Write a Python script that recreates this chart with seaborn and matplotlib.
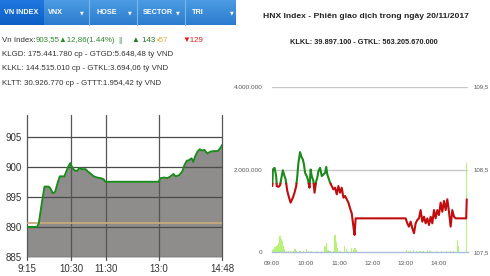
import numpy as np
import matplotlib
matplotlib.use("Agg")
import matplotlib.pyplot as plt
import seaborn as sns

sns.set_theme(style="white")
plt.rcParams['font.family'] = ['Liberation Sans', 'DejaVu Sans']

# ---------------- data ----------------
vn_times = ["9:15", "9:26", "9:32", "9:35", "9:41", "9:45", "9:52", "9:55", "9:59", "10:03",
            "10:07", "10:11", "10:15", "10:19", "10:22", "10:26", "10:29", "10:32", "10:36", "10:41",
            "10:44", "10:49", "10:55", "10:59", "11:03", "11:09", "11:15", "11:21", "11:26", "11:29",
            "13:00", "13:03", "13:09", "13:15", "13:20", "13:25", "13:29", "13:35", "13:40", "13:44",
            "13:48", "13:52", "13:56", "13:59", "14:02", "14:06", "14:10", "14:14", "14:18", "14:23",
            "14:28", "14:34", "14:41", "14:46", "14:48"]
vn_values = [890.0, 890.0, 890.0, 890.5, 894.4, 896.7, 896.7, 896.4, 895.6, 895.8,
             897.2, 898.4, 898.4, 898.4, 899.2, 900.1, 900.6, 899.9, 899.4, 899.3,
             899.8, 899.6, 899.6, 899.2, 898.9, 898.4, 898.2, 898.1, 897.9, 897.5,
             897.5, 898.1, 898.2, 898.1, 898.4, 898.8, 898.4, 898.6, 899.2, 900.3,
             901.0, 901.1, 901.4, 900.8, 901.7, 902.5, 902.9, 902.7, 902.8, 902.2,
             902.5, 902.6, 902.6, 903.2, 903.6]
vn_ref = 890.69
vn_yticks = [885, 890, 895, 900, 905]
vn_xtick_labels = ["9:15", "10:30", "11:30", "13:0", "14:48"]

hnx_times = ["9:00", "9:01", "9:04", "9:07", "9:08", "9:11", "9:14", "9:17", "9:19", "9:22",
             "9:24", "9:27", "9:31", "9:33", "9:37", "9:40", "9:43", "9:45", "9:47", "9:50",
             "9:52", "9:55", "9:57", "9:59", "10:02", "10:04", "10:07", "10:09", "10:11", "10:14",
             "10:16", "10:19", "10:21", "10:23", "10:26", "10:29", "10:32", "10:35", "10:37", "10:39",
             "10:41", "10:44", "10:47", "10:50", "10:53", "10:56", "10:59", "11:02", "11:05", "11:08",
             "11:11", "11:14", "11:17", "11:20", "11:23", "11:26", "11:28", "11:30", "13:00", "13:03",
             "13:06", "13:09", "13:12", "13:15", "13:18", "13:21", "13:24", "13:27", "13:30", "13:33",
             "13:36", "13:39", "13:42", "13:45", "13:48", "13:51", "13:54", "13:57", "14:00", "14:03",
             "14:06", "14:09", "14:12", "14:15", "14:18", "14:21", "14:24", "14:27", "14:30", "14:49",
             "14:50"]
hnx_prices = [108.30, 108.50, 108.52, 108.42, 108.30, 108.29, 108.31, 108.42, 108.49, 108.42,
              108.38, 108.24, 108.14, 108.10, 108.16, 108.22, 108.30, 108.42, 108.58, 108.71,
              108.66, 108.62, 108.56, 108.46, 108.42, 108.38, 108.28, 108.50, 108.42, 108.36,
              108.22, 108.36, 108.40, 108.48, 108.52, 108.42, 108.44, 108.46, 108.53, 108.44,
              108.40, 108.34, 108.30, 108.26, 108.28, 108.20, 108.30, 108.22, 108.28, 108.16,
              108.18, 108.14, 108.10, 108.03, 107.97, 107.81, 107.71, 107.91, 107.91, 107.85,
              107.81, 107.87, 107.79, 107.73, 107.85, 107.89, 107.91, 108.01, 107.87, 107.93,
              107.85, 107.91, 107.83, 107.93, 107.85, 108.01, 107.91, 108.01, 107.95, 108.10,
              107.99, 108.12, 108.01, 108.14, 107.99, 107.81, 108.01, 107.93, 107.91, 107.91,
              108.14]
hnx_ref = 108.33

vol_times = ["9:00", "9:02", "9:04", "9:05", "9:07", "9:09", "9:11", "9:13", "9:14", "9:16",
             "9:18", "9:20", "9:22", "9:25", "9:29", "9:33", "9:38", "9:41", "9:44", "9:50",
             "9:56", "10:02", "10:05", "10:11", "10:21", "10:29", "10:35", "10:37", "10:40", "10:44",
             "10:50", "10:52", "10:53", "10:55", "10:57", "11:02", "11:10", "11:13", "11:15", "11:22",
             "11:26", "11:29", "11:32", "13:02", "13:05", "13:09", "13:14", "13:19", "13:26", "13:31",
             "13:39", "13:44", "13:56", "14:05", "14:14", "14:21", "14:26", "14:33", "14:35", "14:50"]
vol_values = [60000, 80000, 100000, 120000, 150000, 180000, 220000, 280000, 400000, 330000,
              270000, 160000, 70000, 40000, 30000, 30000, 40000, 80000, 40000, 30000,
              30000, 90000, 40000, 30000, 30000, 20000, 150000, 230000, 60000, 40000,
              30000, 250000, 420000, 260000, 100000, 40000, 150000, 90000, 40000, 100000,
              50000, 100000, 60000, 60000, 40000, 30000, 60000, 40000, 30000, 20000,
              50000, 30000, 20000, 30000, 20000, 40000, 30000, 300000, 150000, 2150000]
hnx_xtick_labels = ["09:00", "10:00", "11:00", "12:00", "13:00", "14:00"]
vol_ticks = [0, 2000000, 4000000]
vol_tick_labels = ["0", "2.000.000", "4.000.000"]
price_ticks = [107.5, 108.5, 109.5]
price_tick_labels = ["107,5", "108,5", "109,5"]


def to_min(t, start):
    h, m = t.split(":")
    return int(h) * 60 + int(m) - start


W, H = 490, 276
fig = plt.figure(figsize=(W / 100, H / 100), dpi=100)
fig.patch.set_facecolor("white")

bg = fig.add_axes([0, 0, 1, 1])
bg.set_xlim(0, W)
bg.set_ylim(H, 0)
bg.axis("off")


def px_axes(x0, y0, x1, y1):
    return fig.add_axes([x0 / W, 1 - y1 / H, (x1 - x0) / W, (y1 - y0) / H])


# ---------------- tab bar ----------------
grad = np.linspace(0, 1, 50).reshape(-1, 1)
bg.imshow(grad, extent=[0, 235, 25, 0], aspect="auto",
          cmap=matplotlib.colors.LinearSegmentedColormap.from_list("b", ["#4d9be3", "#2b7ccf"]),
          zorder=1)
bg.imshow(grad, extent=[0, 43, 25, 0], aspect="auto",
          cmap=matplotlib.colors.LinearSegmentedColormap.from_list("a", ["#1f78e0", "#0d5fc4"]),
          zorder=2)
for sx in [89, 137, 185]:
    bg.plot([sx, sx], [0, 25], color="#7fb6ea", lw=0.8, zorder=3)
bg.set_xlim(0, W)
bg.set_ylim(H, 0)
tab_kw = dict(color="white", fontsize=5.2, fontweight="bold", va="center", zorder=4)
bg.text(21.5, 13, "VN INDEX", ha="center", **tab_kw)
for lab, lx, ax_ in [("VNX", 48, 82), ("HOSE", 96, 130), ("SECTOR", 143, 178), ("TRI", 192, 232)]:
    bg.text(lx, 13, lab, ha="left", **tab_kw)
    bg.text(ax_, 12.5, "▼", ha="center", color="white", fontsize=3.5, va="center", zorder=4,
            family=["DejaVu Sans"])

# ---------------- left header text ----------------
txt_kw = dict(fontsize=5.7, va="center", ha="left")
bg.text(2, 40, "Vn Index:", color="#333333", **txt_kw)
bg.text(36, 40, "903,55▲12,86(1.44%)", color="#2e8a2e", **txt_kw)
bg.text(118, 40, "||", color="#2e8a2e", **txt_kw)
bg.text(132, 40, "▲ 143", color="#1f7a1f", **txt_kw)
bg.text(157, 40, "▪57", color="#f0a23c", **txt_kw)
bg.text(182, 40, "▼129", color="#e01e1e", **txt_kw)
bg.text(2, 54.5, "KLGD: 175.441.780 cp - GTGD:5.648,48 tỷ VND", color="#333333", **txt_kw)
bg.text(2, 69, "KLKL: 144.515.010 cp - GTKL:3.694,06 tỷ VND", color="#333333", **txt_kw)
bg.text(2, 83.5, "KLTT: 30.926.770 cp - GTTT:1.954,42 tỷ VND", color="#333333", **txt_kw)

# ---------------- right header text ----------------
bg.text(366, 17, "HNX Index - Phiên giao dịch trong ngày 20/11/2017", ha="center", va="center",
        fontsize=6.1, fontweight="bold", color="#222222")
bg.text(364, 43, "KLKL: 39.897.100 - GTKL: 563.205.670.000", ha="center", va="center",
        fontsize=5.3, fontweight="bold", color="#222222")

# ---------------- left chart: VN Index ----------------
axL = px_axes(27, 115, 222, 257)
vx = np.array([to_min(t, 9 * 60 + 15) for t in vn_times])
vy = np.array(vn_values)
axL.set_xlim(0, to_min("14:48", 9 * 60 + 15))
axL.set_ylim(885, 908.6)
axL.fill_between(vx, 885, vy, color="#8f8d8b", lw=0, zorder=1)
for yv in vn_yticks:
    axL.axhline(yv, color="#4a4a4a", lw=0.9, zorder=2)
vxt = [to_min(t, 9 * 60 + 15) for t in vn_xtick_labels]
for xv in vxt:
    axL.plot([xv, xv], [884.5, 908.6], color="#555555", lw=0.9, zorder=2, clip_on=False)
axL.axhline(vn_ref, color="#c6a97a", lw=1.3, zorder=3)
sns.lineplot(x=vx, y=vy, ax=axL, color="#1c8a1c", lw=1.4, zorder=4)
axL.set_yticks(vn_yticks)
axL.set_xticks(vxt)
axL.set_xticklabels(vn_xtick_labels)
axL.tick_params(axis="both", length=0, labelsize=7, colors="#333333")
axL.tick_params(axis="y", pad=4)
axL.tick_params(axis="x", pad=5)
for s in axL.spines.values():
    s.set_visible(False)
axL.set_facecolor("white")

# ---------------- right chart: HNX ----------------
axR = px_axes(272.3, 86.7, 467.7, 252.3)
hx_end = 351.7
axR.set_xlim(0, hx_end)
axR.set_ylim(0, 4000000)
for yv in vol_ticks[1:]:
    axR.axhline(yv, color="#c8c8c8", lw=1.0, zorder=1)
bx = np.array([to_min(t, 9 * 60) for t in vol_times])
axR.bar(bx, vol_values, width=2.4, color="#b6f276", lw=0, zorder=2)
axR.set_yticks(vol_ticks)
axR.set_yticklabels(vol_tick_labels)
axR.set_xticks([to_min(t, 9 * 60) for t in hnx_xtick_labels])
axR.set_xticklabels(hnx_xtick_labels)
for s in ["top", "right", "left"]:
    axR.spines[s].set_visible(False)
axR.spines["bottom"].set_color("#a9bedb")
axR.spines["bottom"].set_linewidth(1.0)
axR.tick_params(axis="x", length=4, width=0.8, color="#a9bedb", direction="out",
                labelsize=4.6, labelcolor="#555555", pad=2)
axR.tick_params(axis="y", length=0, labelsize=4.6, labelcolor="#555555", pad=7)

axP = axR.twinx()
axP.set_ylim(107.5, 109.5)
axP.set_xlim(0, hx_end)
px = np.array([to_min(t, 9 * 60) for t in hnx_times], dtype=float)
py = np.array(hnx_prices)
# insert crossing points so colours switch exactly at the reference price
xs, ys = [px[0]], [py[0]]
for i in range(1, len(px)):
    a, b = py[i - 1] - hnx_ref, py[i] - hnx_ref
    if a * b < 0:
        f = a / (a - b)
        xs.append(px[i - 1] + f * (px[i] - px[i - 1]))
        ys.append(hnx_ref)
    xs.append(px[i])
    ys.append(py[i])
xs, ys = np.array(xs), np.array(ys)
axP.plot(xs, np.where(ys >= hnx_ref - 1e-9, ys, np.nan), color="#1a8a1a", lw=1.5, zorder=3)
axP.plot(xs, np.where(ys <= hnx_ref + 1e-9, ys, np.nan), color="#c00d0d", lw=1.5, zorder=3)
axP.set_yticks(price_ticks)
axP.set_yticklabels(price_tick_labels)
axP.tick_params(axis="y", length=0, labelsize=4.4, labelcolor="#555555", pad=4)
for s in axP.spines.values():
    s.set_visible(False)

fig.savefig("out.png", dpi=100)
